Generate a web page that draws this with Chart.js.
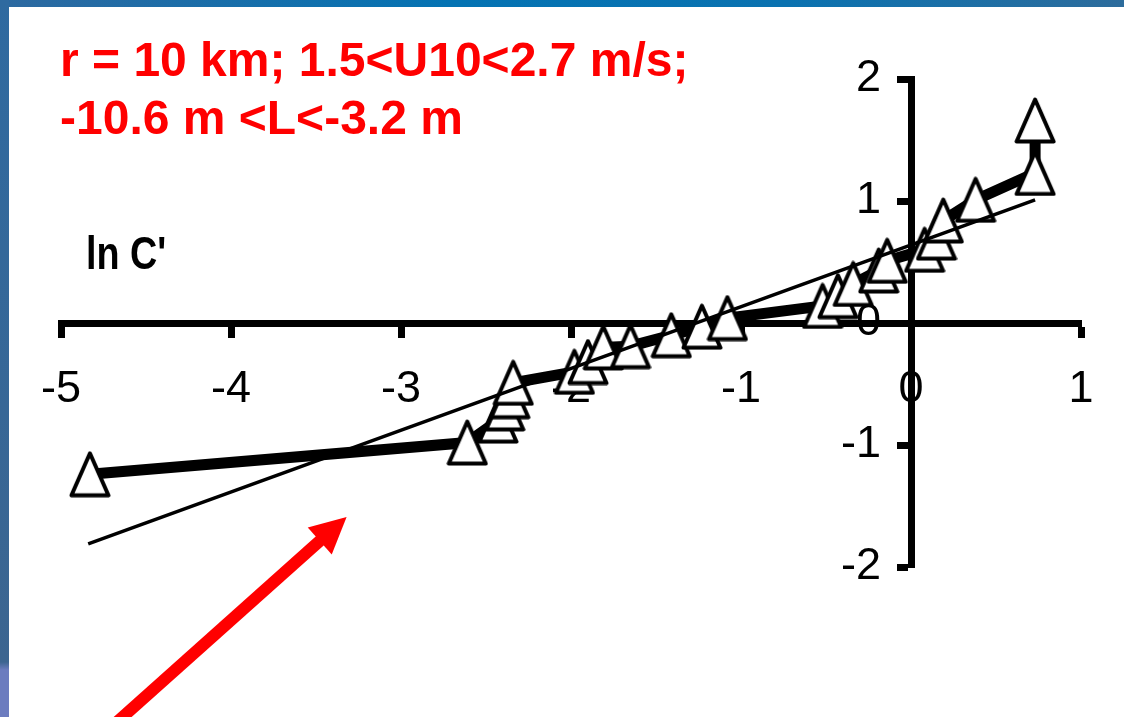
<!DOCTYPE html>
<html>
<head>
<meta charset="utf-8">
<title>ln C'</title>
<script src="https://cdn.jsdelivr.net/npm/chart.js@4.4.1/dist/chart.umd.min.js"></script>
<style>
	body {
		margin: 0;
		width: 1124px;
		height: 717px;
		overflow: hidden;
		position: relative;
		background: #fff;
		font-family: "Liberation Sans", Arial, sans-serif;
	}
	#topbar {
		position: absolute; left: 0; top: 0; width: 1124px; height: 7px;
		background: linear-gradient(to right, #2d69a0, #0473b3 40%, #0a72b0 70%, #2d6c9c);
	}
	#leftbar {
		position: absolute; left: 0; top: 0; width: 9px; height: 717px;
		background: linear-gradient(to bottom, #2f6aa0 0, #3c6590 662px, #6c7cbf 670px, #6c7cbf 100%);
	}
	#chart { position: absolute; left: 0; top: 0; }
	.note {
		position: absolute; left: 60px; color: #ff0000; font-weight: bold;
		font-size: 48px; line-height: 1; white-space: nowrap;
	}
	#ylabel {
		position: absolute; left: 86px; top: 230px; color: #000; font-weight: bold;
		font-size: 46px; line-height: 1; white-space: nowrap;
		transform: scaleX(0.82); transform-origin: left top;
	}
</style>
</head>
<body>
<div id="topbar"></div>
<div id="leftbar"></div>
<canvas id="chart" width="1124" height="717"></canvas>
<div class="note" style="top:36px">r = 10 km; 1.5&lt;U10&lt;2.7 m/s;</div>
<div class="note" style="top:94px">-10.6 m &lt;L&lt;-3.2 m</div>
<div id="ylabel">ln C'</div>
<script>
// data

const xValues = [-4.83, -2.61, -2.43, -2.39, -2.36, -2.34, -1.98, -1.90, -1.81, -1.65, -1.41, -1.23,
	-1.08, -0.52, -0.43, -0.34, -0.19, -0.14, 0.08, 0.15, 0.19, 0.38, 0.73, 0.73]
const lnC = [-1.24, -0.98, -0.80, -0.70, -0.60, -0.49, -0.40, -0.32, -0.20, -0.19, -0.10, -0.03,
	0.04, 0.14, 0.22, 0.32, 0.43, 0.51, 0.60, 0.70, 0.84, 1.01, 1.23, 1.66]

// straight fit line, end points
const fitX = [-4.84, 0.73]
const fitY = [-1.81, 1.01]

const xTicks = [-5, -4, -3, -2, -1, 0, 1]
const yTicks = [-2, -1, 0, 1, 2]

// red arrow, tail and tip in axis units
const arrowFrom = [-4.71, -3.32]
const arrowTo = [-3.32, -1.59]

// gap between the y axis and its labels
const yLabelGap = 30

// triangle marker

const tri = document.createElement("canvas")
tri.width = 42
tri.height = 47
const tctx = tri.getContext("2d")
tctx.lineWidth = 4
tctx.lineJoin = "round"
tctx.beginPath()
tctx.moveTo(21, 2.5)
tctx.lineTo(39.5, 44.5)
tctx.lineTo(2.5, 44.5)
tctx.closePath()
tctx.fillStyle = "#fff"
tctx.fill()
tctx.strokeStyle = "#000"
tctx.stroke()

// plugins

// y labels of an axis placed at x = 0 sit on the axis line, push them left
const yLabelShift = {
	id: "yLabelShift",
	beforeDraw(chart) {
		const items = chart.scales.y.getLabelItems(chart.chartArea)
		items.forEach(item => {
			if (!item.shifted) {
				item.options.translation[0] -= yLabelGap
				item.shifted = true
			}
		})
	},
}

const arrowPlugin = {
	id: "redArrow",
	afterDatasetsDraw(chart) {
		const { ctx, scales } = chart
		const x1 = scales.x.getPixelForValue(arrowFrom[0])
		const y1 = scales.y.getPixelForValue(arrowFrom[1])
		const x2 = scales.x.getPixelForValue(arrowTo[0])
		const y2 = scales.y.getPixelForValue(arrowTo[1])
		const ang = Math.atan2(y2 - y1, x2 - x1)
		const headLen = 36
		const headHalf = 18
		const bx = x2 - Math.cos(ang) * headLen
		const by = y2 - Math.sin(ang) * headLen
		ctx.save()
		ctx.strokeStyle = "#ff0000"
		ctx.fillStyle = "#ff0000"
		ctx.lineWidth = 12
		ctx.beginPath()
		ctx.moveTo(x1, y1)
		ctx.lineTo(bx + Math.cos(ang) * 4, by + Math.sin(ang) * 4)
		ctx.stroke()
		ctx.beginPath()
		ctx.moveTo(x2, y2)
		ctx.lineTo(bx - Math.sin(ang) * headHalf, by + Math.cos(ang) * headHalf)
		ctx.lineTo(bx + Math.sin(ang) * headHalf, by - Math.cos(ang) * headHalf)
		ctx.closePath()
		ctx.fill()
		ctx.restore()
	},
}

const tickFont = { family: "'Liberation Sans', Arial, sans-serif", size: 45 }

const config = {
	type: "scatter",
	data: {
		datasets: [
			{
				label: "fit",
				data: fitX.map((x, i) => ({ x: x, y: fitY[i] })),
				showLine: true,
				borderColor: "#000",
				borderWidth: 3.5,
				pointRadius: 0,
				order: 0,
				clip: false,
			},
			{
				label: "ln C'",
				data: xValues.map((x, i) => ({ x: x, y: lnC[i] })),
				showLine: true,
				borderColor: "#000",
				borderWidth: 11,
				pointStyle: tri,
				pointRadius: 20,
				order: 1,
				clip: false,
			},
		],
	},
	options: {
		responsive: false,
		animation: false,
		layout: { padding: { left: 61, right: 43, top: 79, bottom: 150 } },
		plugins: {
			legend: { display: false },
			tooltip: { enabled: false },
		},
		scales: {
			x: {
				type: "linear",
				min: -5,
				max: 1,
				position: { y: 0 },
				afterBuildTicks: axis => {
					axis.ticks = xTicks.map(v => ({ value: v }))
				},
				ticks: { autoSkip: false, maxRotation: 0, color: "#000", font: tickFont, padding: 29 },
				grid: { drawOnChartArea: false, tickLength: 11, tickWidth: 7, tickColor: "#000" },
				border: { display: true, color: "#000", width: 7 },
			},
			y: {
				type: "linear",
				min: -2,
				max: 2,
				position: { x: 0 },
				afterBuildTicks: axis => {
					axis.ticks = yTicks.map(v => ({ value: v }))
				},
				ticks: { autoSkip: false, color: "#000", font: tickFont },
				grid: { drawOnChartArea: false, tickLength: 11, tickWidth: 7, tickColor: "#000" },
				border: { display: true, color: "#000", width: 7 },
			},
		},
	},
	plugins: [yLabelShift, arrowPlugin],
}

new Chart(document.querySelector("#chart"), config)
</script>
</body>
</html>
